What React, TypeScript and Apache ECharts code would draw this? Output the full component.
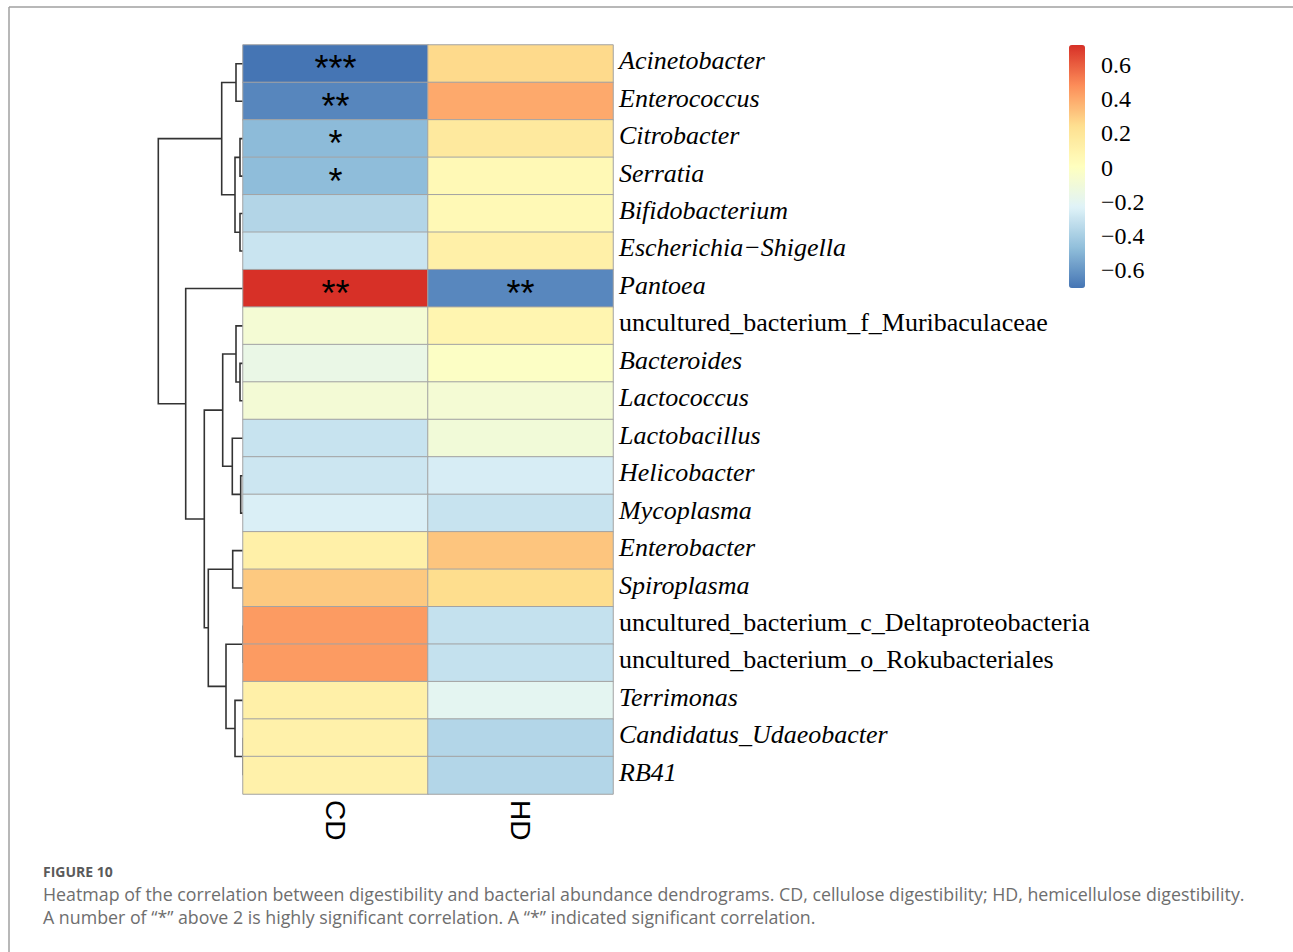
import React, { useEffect, useRef } from "react";
import * as echarts from "echarts";

const rowLabels = [
  "Acinetobacter", "Enterococcus", "Citrobacter", "Serratia", "Bifidobacterium",
  "Escherichia\u2212Shigella", "Pantoea", "uncultured_bacterium_f_Muribaculaceae",
  "Bacteroides", "Lactococcus", "Lactobacillus", "Helicobacter", "Mycoplasma",
  "Enterobacter", "Spiroplasma", "uncultured_bacterium_c_Deltaproteobacteria",
  "uncultured_bacterium_o_Rokubacteriales", "Terrimonas", "Candidatus_Udaeobacter", "RB41",
];
const columns = ["CD", "HD"];
const cdValues = [-0.705, -0.65, -0.48, -0.475, -0.366, -0.30, 0.717, -0.08, -0.155, -0.085,
  -0.305, -0.29, -0.25, 0.12, 0.31, 0.44, 0.44, 0.12, 0.11, 0.11];
const hdValues = [0.26, 0.40, 0.174, 0.05, 0.05, 0.12, -0.646, 0.08, -0.02, -0.08,
  -0.10, -0.258, -0.305, 0.32, 0.25, -0.315, -0.315, -0.20, -0.365, -0.365];
const cdStars = ["***", "**", "*", "*", "", "", "**", "", "", "", "", "", "", "", "", "", "", "", "", ""];
const hdStars = ["", "", "", "", "", "", "**", "", "", "", "", "", "", "", "", "", "", "", "", ""];
const colorTicks = [-0.6, -0.4, -0.2, 0, 0.2, 0.4, 0.6];
const valueMin = -0.705;
const valueMax = 0.717;
const palette = ["#4575B4", "#91BFDB", "#E0F3F8", "#FFFFBF", "#FEE090", "#FC8D59", "#D73027"];
// dendrogram merges: [leftNode, rightNode, height]; leaves 0..19, merge k -> node 20+k
const merges: [number, number, number][] = [
  [0, 1, 7], [2, 3, 3], [4, 5, 3], [21, 22, 8], [20, 23, 21.3],
  [8, 9, 3], [7, 25, 7], [11, 12, 2.3], [10, 27, 10.7], [26, 28, 20.3],
  [13, 14, 10.3], [15, 16, 0], [18, 19, 0], [17, 32, 8], [31, 33, 17],
  [30, 34, 34.7], [29, 35, 38.7], [6, 36, 57.3], [24, 37, 84.7],
];
const captionTitle = "FIGURE 10";
const captionLines = [
  "Heatmap of the correlation between digestibility and bacterial abundance dendrograms. CD, cellulose digestibility; HD, hemicellulose digestibility.",
  "A number of \u201c*\u201d above 2 is highly significant correlation. A \u201c*\u201d indicated significant correlation.",
];

function buildDendro() {
  const nLeaves = rowLabels.length;
  const pos: number[] = [];
  const hgt: number[] = [];
  for (let i = 0; i < nLeaves; i++) { pos.push(i + 0.5); hgt.push(0); }
  const segs: any[] = [];
  merges.forEach(([a, b, h]) => {
    segs.push({ coords: [[hgt[a], pos[a]], [h, pos[a]], [h, pos[b]], [hgt[b], pos[b]]] });
    pos.push((pos[a] + pos[b]) / 2);
    hgt.push(h);
  });
  return segs;
}

export default function App() {
  const ref = useRef<HTMLDivElement>(null);
  useEffect(() => {
    if (!ref.current) return;
    const chart = echarts.init(ref.current, null, { renderer: "svg" });
    const heatData: any[] = [];
    rowLabels.forEach((_, r) => {
      heatData.push([0, r, cdValues[r]]);
      heatData.push([1, r, hdValues[r]]);
    });
    const starsOf = [cdStars, hdStars];
    const serif = "Liberation Serif";
    const option: any = {
      animation: false,
      backgroundColor: "#ffffff",
      grid: [
        { left: 243, top: 45, width: 370, height: 749 },
        { left: 158, top: 45, width: 85, height: 749 },
        { left: 1069, top: 45, width: 16, height: 243 },
      ],
      xAxis: [
        {
          gridIndex: 0, type: "category", data: columns, position: "bottom",
          axisLine: { show: false }, axisTick: { show: false }, splitLine: { show: false },
          axisLabel: { rotate: -90, margin: 6, fontSize: 28, fontFamily: "Liberation Sans", color: "#000" },
        },
        { gridIndex: 1, type: "value", min: 0, max: 85, inverse: true, show: false },
        { gridIndex: 2, type: "category", data: [""], show: false },
      ],
      yAxis: [
        {
          gridIndex: 0, type: "category", data: rowLabels, inverse: true, position: "right",
          axisLine: { show: false }, axisTick: { show: false }, splitLine: { show: false },
          axisLabel: {
            margin: 6, fontSize: 26, fontFamily: serif, color: "#000",
            formatter: (v: string) => (v.startsWith("uncultured") ? `{n|${v}}` : `{i|${v}}`),
            rich: {
              i: { fontStyle: "italic", fontFamily: serif, fontSize: 26, color: "#000", padding: [0, 0, 6, 0] },
              n: { fontFamily: serif, fontSize: 26, color: "#000", padding: [0, 0, 6, 0] },
            },
          },
        },
        { gridIndex: 1, type: "value", min: 0, max: rowLabels.length, inverse: true, show: false },
        {
          gridIndex: 2, type: "value", min: valueMin, max: valueMax, position: "right",
          axisLine: { show: false }, axisTick: { show: false }, splitLine: { show: false },
          axisLabel: {
            customValues: colorTicks, margin: 16, fontSize: 24, fontFamily: serif, color: "#000",
            formatter: (v: number) => (v < 0 ? "\u2212" : "") + String(Math.abs(v)),
          },
        },
      ],
      visualMap: {
        type: "continuous", seriesIndex: 0, min: valueMin, max: valueMax,
        left: 1069, top: 45, itemWidth: 16, itemHeight: 243, padding: 0,
        calculable: false, hoverLink: false, text: null, show: true,
        inRange: { color: palette },
      },
      series: [
        {
          type: "heatmap", xAxisIndex: 0, yAxisIndex: 0, data: heatData, z: 3,
          itemStyle: { borderColor: "#a3a3a3", borderWidth: 1 },
          label: {
            show: true, fontSize: 36, fontFamily: "Liberation Sans", color: "#000", offset: [0, 5],
            formatter: (p: any) => starsOf[p.data[0]][p.data[1]],
          },
          emphasis: { disabled: true },
        },
        {
          type: "lines", coordinateSystem: "cartesian2d", xAxisIndex: 1, yAxisIndex: 1,
          polyline: true, data: buildDendro(), z: 2, silent: true,
          lineStyle: { color: "#333", width: 1.6, opacity: 1 },
        },
        { type: "scatter", xAxisIndex: 2, yAxisIndex: 2, data: [] },
      ],
      graphic: [
        { type: "line", shape: { x1: 9, y1: 7, x2: 1293, y2: 7 }, style: { stroke: "#a0a0a0", lineWidth: 1.5 } },
        { type: "line", shape: { x1: 9, y1: 7, x2: 9, y2: 952 }, style: { stroke: "#a0a0a0", lineWidth: 1.5 } },
        {
          type: "text", left: 43, top: 864,
          style: { text: captionTitle, font: "bold 14px 'Open Sans'", fill: "#5a5a5a" },
        },
        {
          type: "text", left: 43, top: 885,
          style: { text: captionLines[0], font: "17.8px 'Open Sans'", fill: "#6e6e6e" },
        },
        {
          type: "text", left: 43, top: 908,
          style: { text: captionLines[1], font: "17.8px 'Open Sans'", fill: "#6e6e6e" },
        },
      ],
    };
    chart.setOption(option);
    return () => chart.dispose();
  }, []);
  return <div ref={ref} style={{ position: "absolute", left: 0, top: 0, width: 1293, height: 952 }} />;
}
